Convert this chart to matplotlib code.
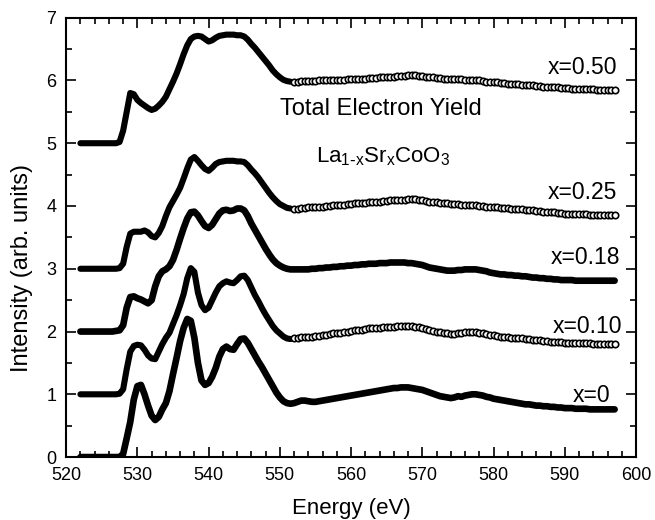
import matplotlib.pyplot as plt
import numpy as np
from matplotlib.ticker import MultipleLocator

plt.rcParams['font.family'] = ['Liberation Sans', 'DejaVu Sans']

# energy grid of the spectra, eV (522 ... 597 in 0.5 eV steps)
energy = np.arange(522.0, 597.25, 0.5)

# O K-edge total electron yield, offset spectra
x050 = [5.00, 5.00, 5.00, 5.00, 5.00, 5.00, 5.00, 5.00, 5.00, 5.00,
        5.00, 5.02, 5.20, 5.50, 5.80, 5.78, 5.69, 5.64, 5.60, 5.56,
        5.53, 5.55, 5.60, 5.66, 5.74, 5.86, 5.98, 6.11, 6.26, 6.42,
        6.56, 6.66, 6.70, 6.71, 6.70, 6.66, 6.62, 6.64, 6.68, 6.71,
        6.72, 6.73, 6.73, 6.73, 6.72, 6.72, 6.70, 6.65, 6.58, 6.52,
        6.45, 6.38, 6.31, 6.24, 6.16, 6.10, 6.05, 6.01, 5.99, 5.98,
        5.98, 5.98, 5.99, 5.99, 5.99, 5.99, 5.99, 6.00, 6.00, 6.00,
        6.00, 6.01, 6.01, 6.01, 6.01, 6.02, 6.02, 6.02, 6.03, 6.03,
        6.03, 6.04, 6.04, 6.04, 6.05, 6.05, 6.05, 6.06, 6.06, 6.07,
        6.07, 6.07, 6.08, 6.08, 6.08, 6.07, 6.07, 6.06, 6.06, 6.05,
        6.04, 6.04, 6.03, 6.03, 6.02, 6.02, 6.02, 6.02, 6.01, 6.01,
        6.01, 6.00, 6.00, 5.99, 5.98, 5.98, 5.97, 5.97, 5.96, 5.96,
        5.95, 5.95, 5.94, 5.94, 5.93, 5.93, 5.92, 5.92, 5.91, 5.91,
        5.90, 5.90, 5.90, 5.89, 5.89, 5.88, 5.88, 5.88, 5.87, 5.87,
        5.87, 5.86, 5.86, 5.86, 5.86, 5.85, 5.85, 5.85, 5.85, 5.84,
        5.84]

x025 = [3.00, 3.00, 3.00, 3.00, 3.00, 3.00, 3.00, 3.00, 3.00, 3.00,
        3.00, 3.01, 3.08, 3.35, 3.56, 3.59, 3.59, 3.59, 3.61, 3.58,
        3.52, 3.50, 3.57, 3.68, 3.84, 3.98, 4.08, 4.18, 4.29, 4.44,
        4.60, 4.74, 4.78, 4.72, 4.65, 4.59, 4.56, 4.61, 4.67, 4.70,
        4.71, 4.72, 4.72, 4.72, 4.71, 4.71, 4.70, 4.65, 4.58, 4.52,
        4.45, 4.37, 4.29, 4.21, 4.14, 4.08, 4.03, 4.00, 3.97, 3.96,
        3.96, 3.96, 3.97, 3.97, 3.98, 3.98, 3.98, 3.99, 3.99, 4.00,
        4.00, 4.01, 4.01, 4.02, 4.02, 4.03, 4.03, 4.04, 4.04, 4.05,
        4.05, 4.06, 4.06, 4.07, 4.07, 4.08, 4.08, 4.09, 4.09, 4.10,
        4.10, 4.10, 4.11, 4.11, 4.11, 4.10, 4.09, 4.08, 4.07, 4.07,
        4.06, 4.05, 4.04, 4.04, 4.03, 4.03, 4.03, 4.02, 4.02, 4.01,
        4.01, 4.01, 4.00, 4.00, 3.99, 3.99, 3.98, 3.98, 3.97, 3.97,
        3.97, 3.96, 3.96, 3.95, 3.95, 3.94, 3.94, 3.93, 3.92, 3.92,
        3.91, 3.91, 3.90, 3.90, 3.89, 3.89, 3.88, 3.88, 3.88, 3.87,
        3.87, 3.87, 3.87, 3.86, 3.86, 3.86, 3.86, 3.86, 3.86, 3.86,
        3.86]

x018 = [2.00, 2.00, 2.00, 2.00, 2.00, 2.00, 2.00, 2.00, 2.00, 2.00,
        2.01, 2.02, 2.10, 2.38, 2.55, 2.56, 2.53, 2.51, 2.48, 2.45,
        2.50, 2.72, 2.88, 2.96, 2.99, 3.04, 3.14, 3.30, 3.48, 3.65,
        3.80, 3.90, 3.91, 3.85, 3.76, 3.68, 3.65, 3.70, 3.79, 3.88,
        3.93, 3.94, 3.92, 3.93, 3.96, 3.96, 3.93, 3.84, 3.72, 3.62,
        3.52, 3.42, 3.32, 3.23, 3.15, 3.09, 3.05, 3.02, 3.00, 2.99,
        2.99, 2.99, 2.99, 2.99, 2.99, 3.00, 3.00, 3.01, 3.01, 3.02,
        3.02, 3.03, 3.03, 3.04, 3.04, 3.05, 3.05, 3.06, 3.06, 3.07,
        3.07, 3.08, 3.08, 3.08, 3.09, 3.09, 3.09, 3.10, 3.10, 3.10,
        3.10, 3.10, 3.09, 3.09, 3.08, 3.07, 3.06, 3.04, 3.02, 3.01,
        3.00, 2.99, 2.98, 2.97, 2.97, 2.97, 2.98, 2.98, 2.99, 2.99,
        2.99, 2.99, 2.98, 2.97, 2.96, 2.94, 2.93, 2.92, 2.91, 2.91,
        2.90, 2.90, 2.89, 2.89, 2.88, 2.88, 2.87, 2.86, 2.86, 2.85,
        2.85, 2.84, 2.84, 2.83, 2.83, 2.82, 2.82, 2.82, 2.82, 2.81,
        2.81, 2.81, 2.81, 2.81, 2.81, 2.81, 2.81, 2.81, 2.81, 2.81,
        2.81]

x010 = [1.00, 1.00, 1.00, 1.00, 1.00, 1.00, 1.00, 1.00, 1.00, 1.00,
        1.00, 1.01, 1.08, 1.40, 1.68, 1.77, 1.79, 1.78, 1.71, 1.62,
        1.57, 1.56, 1.68, 1.80, 1.90, 1.98, 2.12, 2.26, 2.42, 2.60,
        2.85, 3.01, 2.95, 2.62, 2.42, 2.34, 2.38, 2.50, 2.62, 2.72,
        2.77, 2.80, 2.78, 2.77, 2.82, 2.88, 2.89, 2.82, 2.70, 2.58,
        2.48, 2.37, 2.27, 2.18, 2.09, 2.02, 1.97, 1.92, 1.89, 1.88,
        1.89, 1.90, 1.91, 1.91, 1.92, 1.92, 1.93, 1.93, 1.94, 1.95,
        1.96, 1.97, 1.97, 1.98, 1.99, 2.00, 2.01, 2.02, 2.03, 2.03,
        2.04, 2.05, 2.05, 2.06, 2.06, 2.07, 2.07, 2.08, 2.08, 2.09,
        2.09, 2.09, 2.09, 2.09, 2.08, 2.07, 2.06, 2.04, 2.03, 2.01,
        2.00, 1.99, 1.98, 1.97, 1.96, 1.96, 1.97, 1.98, 1.99, 1.99,
        1.99, 1.99, 1.98, 1.97, 1.96, 1.95, 1.94, 1.93, 1.92, 1.92,
        1.91, 1.90, 1.90, 1.89, 1.89, 1.88, 1.88, 1.87, 1.86, 1.86,
        1.85, 1.85, 1.84, 1.84, 1.83, 1.83, 1.82, 1.82, 1.82, 1.81,
        1.81, 1.81, 1.81, 1.81, 1.80, 1.80, 1.80, 1.80, 1.80, 1.80,
        1.80]

x000 = [0.00, 0.00, 0.00, 0.00, 0.00, 0.00, 0.00, 0.00, 0.00, 0.00,
        0.00, 0.00, 0.05, 0.30, 0.56, 0.92, 1.13, 1.15, 1.00, 0.82,
        0.66, 0.59, 0.64, 0.76, 0.86, 1.05, 1.32, 1.58, 1.85, 2.06,
        2.20, 2.17, 1.90, 1.50, 1.22, 1.15, 1.18, 1.28, 1.42, 1.60,
        1.72, 1.76, 1.72, 1.71, 1.80, 1.88, 1.89, 1.82, 1.72, 1.62,
        1.52, 1.43, 1.33, 1.23, 1.13, 1.03, 0.95, 0.89, 0.86, 0.85,
        0.86, 0.88, 0.90, 0.90, 0.89, 0.88, 0.88, 0.89, 0.90, 0.91,
        0.92, 0.93, 0.94, 0.95, 0.96, 0.97, 0.98, 0.99, 1.00, 1.01,
        1.02, 1.03, 1.04, 1.05, 1.06, 1.07, 1.08, 1.09, 1.10, 1.10,
        1.11, 1.11, 1.11, 1.10, 1.09, 1.08, 1.07, 1.05, 1.03, 1.01,
        0.99, 0.97, 0.96, 0.95, 0.94, 0.95, 0.97, 0.96, 0.98, 0.99,
        1.00, 1.00, 0.99, 0.98, 0.96, 0.95, 0.93, 0.92, 0.91, 0.90,
        0.89, 0.88, 0.87, 0.86, 0.85, 0.84, 0.84, 0.83, 0.82, 0.82,
        0.81, 0.81, 0.80, 0.80, 0.79, 0.79, 0.78, 0.78, 0.78, 0.77,
        0.77, 0.77, 0.77, 0.76, 0.76, 0.76, 0.76, 0.76, 0.76, 0.76,
        0.76]

labels = ['x=0.50', 'x=0.25', 'x=0.18', 'x=0.10', 'x=0']
label_y = [6.10, 4.11, 3.07, 1.98, 0.87]
label_x = [597.4, 597.4, 597.8, 598.0, 596.4]
open_marks = [True, True, False, True, False]

fig = plt.figure(figsize=(6.55, 5.2), dpi=100)
ax = fig.add_axes([0.101, 0.121, 0.870, 0.845])

tail = energy >= 552
for vals, is_open in zip([x050, x025, x018, x010, x000], open_marks):
    y = np.array(vals)
    if is_open:
        # dense part looks solid, sparse tail shows the open circles
        ax.plot(energy[~tail], y[~tail], color='k', lw=4.4, solid_capstyle='round')
        ax.plot(energy[tail], y[tail], 'o', ms=4.6, mfc='white', mec='k', mew=1.2)
    else:
        ax.plot(energy, y, color='k', lw=4.8, solid_capstyle='round')

for lab, lx, ly in zip(labels, label_x, label_y):
    ax.text(lx, ly, lab, ha='right', va='baseline', fontsize=16.5)

ax.text(564.2, 5.45, 'Total Electron Yield', ha='center', va='baseline', fontsize=17)
ax.text(564.5, 4.69, r'La$_{\mathregular{1\text{-}x}}$Sr$_{\mathregular{x}}$CoO$_{\mathregular{3}}$',
        ha='center', va='baseline', fontsize=16)

ax.set_xlim(520, 600)
ax.set_ylim(0, 7)
ax.xaxis.set_major_locator(MultipleLocator(10))
ax.xaxis.set_minor_locator(MultipleLocator(2))
ax.yaxis.set_major_locator(MultipleLocator(1))
ax.yaxis.set_minor_locator(MultipleLocator(0.5))
ax.tick_params(which='both', direction='in', top=True, right=True, width=1.2, labelsize=13)
ax.tick_params(which='major', length=7, pad=7)
ax.tick_params(which='minor', length=4)
for s in ax.spines.values():
    s.set_linewidth(1.5)

ax.set_xlabel('Energy (eV)', fontsize=16, labelpad=10)
ax.set_ylabel('Intensity (arb. units)', fontsize=17)
ax.yaxis.set_label_coords(-0.058, 0.43)

fig.savefig('out.png', dpi=100)
